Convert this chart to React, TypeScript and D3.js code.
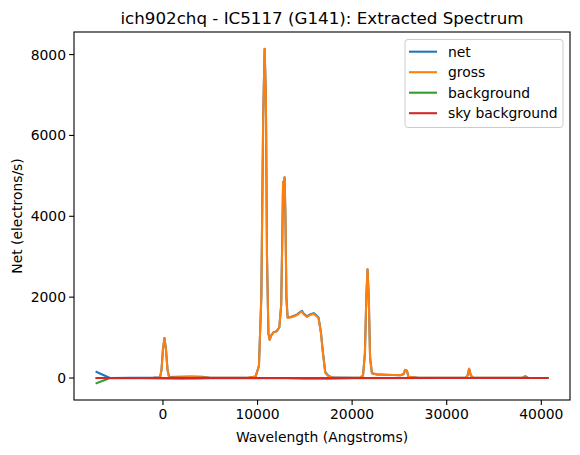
import React, { useEffect, useRef } from "react";
import * as d3 from "d3";

// wavelength grid (Angstroms) for the gross / net spectrum
const wave = [
  -7020, -5600, -1000, -300, -150, 0, 160, 320, 480, 650, 1500, 3000, 4200, 5000,
  9000, 9800, 10150, 10400, 10600, 10750, 10880, 11000, 11150, 11280, 11450, 11700,
  12000, 12300, 12500, 12620, 12700, 12780, 12860, 12950, 13050, 13180, 13500, 13810,
  14200, 14500, 14700, 14900, 15230, 15500, 15700, 15930, 16200, 16450, 16700, 16910,
  17160, 17510, 18000, 20800, 21150, 21350, 21500, 21630, 21760, 21900, 22090, 22600,
  23500, 25100, 25450, 25600, 25800, 25950, 27000, 32000, 32200, 32370, 32550, 32800,
  38000, 38300, 38600, 40650,
];

const gross = [
  0, 0, 5, 10, 200, 700, 980, 700, 200, 10, 15, 25, 20, 5,
  5, 40, 300, 2000, 6500, 8140, 7000, 3000, 1100, 945, 1050, 1130,
  1150, 1250, 1800, 3500, 4850, 4800, 4960, 4000, 2000, 1490, 1500, 1520,
  1560, 1620, 1645, 1570, 1510, 1550, 1570, 1590, 1540, 1480, 1120, 625,
  130, 40, 5, 5, 60, 600, 2000, 2690, 2000, 500, 120, 90,
  80, 70, 100, 200, 180, 30, 5, 5, 60, 230, 60, 5,
  5, 20, 5, 0,
];

const net = [
  150, 0, 10, 20, 210, 710, 990, 715, 215, 25, 30, 35, 30, 5,
  5, 40, 305, 2005, 6505, 8145, 7005, 3005, 1105, 950, 1055, 1135,
  1155, 1255, 1805, 3505, 4855, 4805, 4965, 4005, 2005, 1500, 1510, 1535,
  1575, 1635, 1660, 1585, 1525, 1565, 1585, 1605, 1555, 1495, 1135, 640,
  145, 50, 10, 5, 60, 600, 2000, 2690, 2000, 500, 120, 90,
  80, 70, 100, 200, 180, 30, 5, 5, 60, 230, 60, 5,
  5, 45, 5, 0,
];

const bgWave = [-7020, -5600, -2000, 0, 2000, 4000, 6000, 13000, 15000, 17500, 20000, 30000, 40650];
const background = [-130, 0, -5, -10, -15, -10, 0, -5, -15, -15, -5, 0, 0];

const skyWave = [-7020, 0, 10000, 20000, 30000, 40650];
const skyBackground = [0, 0, 0, 0, 0, 0];

const seriesNames = ["net", "gross", "background", "sky background"];
const colors = ["#1f77b4", "#ff7f0e", "#2ca02c", "#d62728"];
const xTicks = [0, 10000, 20000, 30000, 40000];
const yTicks = [0, 2000, 4000, 6000, 8000];

const App = () => {
  const chart = useRef<SVGSVGElement>(null);

  useEffect(() => {
    const W = 580;
    const H = 455;
    const left = 74, right = 570, top = 32, bottom = 400;
    const font = "DejaVu Sans, sans-serif";

    const svg = d3.select(chart.current).attr("width", W).attr("height", H);
    svg.selectAll("*").remove();

    const series = [
      wave.map((w, i) => [w, net[i]]),
      wave.map((w, i) => [w, gross[i]]),
      bgWave.map((w, i) => [w, background[i]]),
      skyWave.map((w, i) => [w, skyBackground[i]]),
    ];

    // matplotlib style 5% margins
    const allX = series.flat().map((d) => d[0]);
    const allY = series.flat().map((d) => d[1]);
    const [x0, x1] = d3.extent(allX) as [number, number];
    const [y0, y1] = d3.extent(allY) as [number, number];
    const px = (x1 - x0) * 0.05;
    const py = (y1 - y0) * 0.05;

    const x = d3.scaleLinear().domain([x0 - px, x1 + px]).range([left, right]);
    const y = d3.scaleLinear().domain([y0 - py, y1 + py]).range([bottom, top]);

    svg.append("rect").attr("width", W).attr("height", H).attr("fill", "white");

    const line = d3
      .line<number[]>()
      .x((d) => x(d[0]))
      .y((d) => y(d[1]));

    const plot = svg.append("g");
    series.forEach((s, i) => {
      plot
        .append("path")
        .datum(s)
        .attr("d", line)
        .attr("fill", "none")
        .attr("stroke", colors[i])
        .attr("stroke-width", 2.08)
        .attr("stroke-linejoin", "round")
        .attr("stroke-linecap", "square");
    });

    // axes frame
    svg
      .append("rect")
      .attr("x", left)
      .attr("y", top)
      .attr("width", right - left)
      .attr("height", bottom - top)
      .attr("fill", "none")
      .attr("stroke", "black")
      .attr("stroke-width", 1.1);

    // x ticks
    const xg = svg.append("g");
    xTicks.forEach((t) => {
      xg.append("line")
        .attr("x1", x(t)).attr("x2", x(t))
        .attr("y1", bottom).attr("y2", bottom + 4.9)
        .attr("stroke", "black").attr("stroke-width", 1.1);
      xg.append("text")
        .attr("x", x(t)).attr("y", bottom + 19)
        .attr("text-anchor", "middle")
        .attr("font-family", font).attr("font-size", 13.9)
        .text(t);
    });

    // y ticks
    const yg = svg.append("g");
    yTicks.forEach((t) => {
      yg.append("line")
        .attr("x1", left - 4.9).attr("x2", left)
        .attr("y1", y(t)).attr("y2", y(t))
        .attr("stroke", "black").attr("stroke-width", 1.1);
      yg.append("text")
        .attr("x", left - 8).attr("y", y(t) + 5)
        .attr("text-anchor", "end")
        .attr("font-family", font).attr("font-size", 13.9)
        .text(t);
    });

    svg.append("text")
      .attr("x", (left + right) / 2).attr("y", 24)
      .attr("text-anchor", "middle")
      .attr("font-family", font).attr("font-size", 16.7)
      .text("ich902chq - IC5117 (G141): Extracted Spectrum");

    svg.append("text")
      .attr("x", (left + right) / 2).attr("y", 442)
      .attr("text-anchor", "middle")
      .attr("font-family", font).attr("font-size", 13.9)
      .text("Wavelength (Angstroms)");

    svg.append("text")
      .attr("transform", `translate(22,${(top + bottom) / 2}) rotate(-90)`)
      .attr("text-anchor", "middle")
      .attr("font-family", font).attr("font-size", 13.9)
      .text("Net (electrons/s)");

    // legend
    const lg = svg.append("g");
    lg.append("rect")
      .attr("x", 405).attr("y", 39.5)
      .attr("width", 158).attr("height", 88)
      .attr("rx", 3)
      .attr("fill", "white").attr("fill-opacity", 0.8)
      .attr("stroke", "#cccccc").attr("stroke-width", 1);
    seriesNames.forEach((name, i) => {
      const cy = 51.7 + i * 20.5;
      lg.append("line")
        .attr("x1", 409).attr("x2", 437)
        .attr("y1", cy).attr("y2", cy)
        .attr("stroke", colors[i]).attr("stroke-width", 2.08);
      lg.append("text")
        .attr("x", 448).attr("y", cy + 5)
        .attr("font-family", font).attr("font-size", 13.9)
        .text(name);
    });
  }, []);

  return (
    <div style={{ position: "absolute", left: 0, top: 0 }}>
      <svg ref={chart}></svg>
    </div>
  );
};

export default App;
